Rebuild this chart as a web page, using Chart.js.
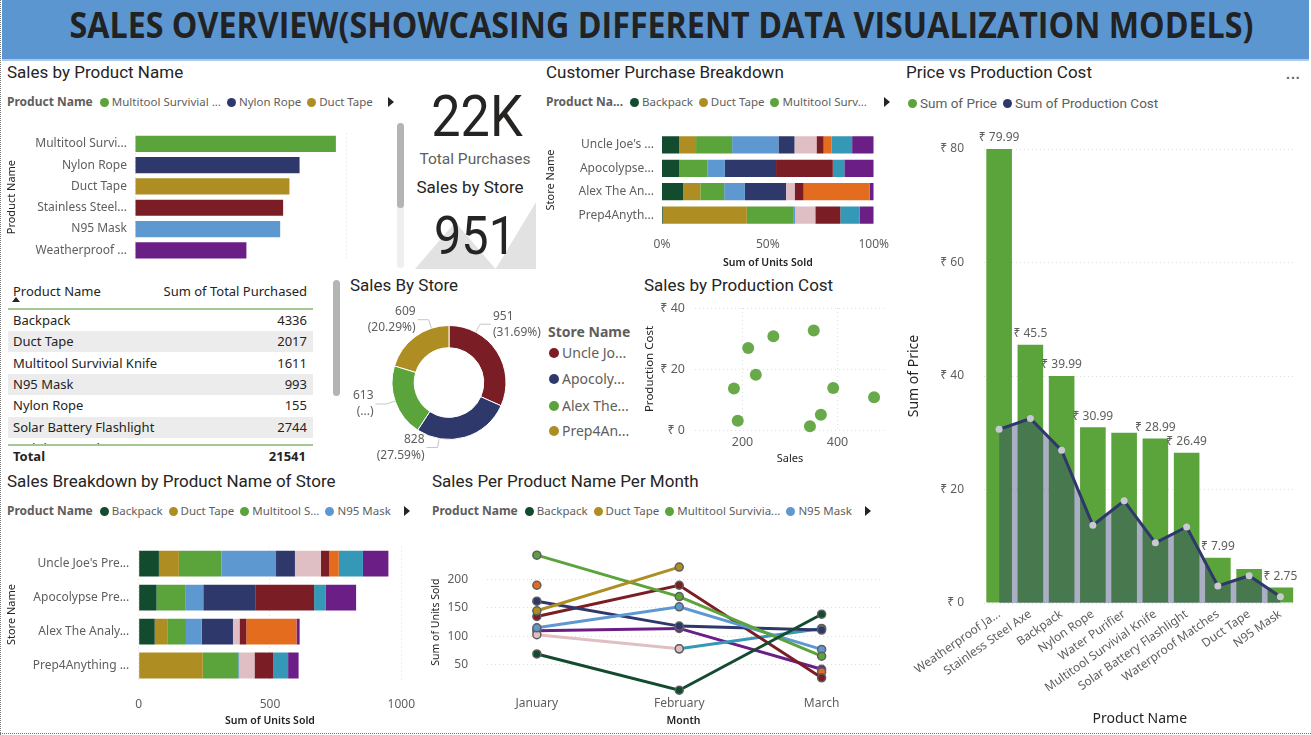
<!DOCTYPE html>
<html><head><meta charset="utf-8"><title>Sales Overview</title>
<script src="https://cdn.jsdelivr.net/npm/chart.js@4.4.1/dist/chart.umd.min.js"></script>
<style>
html,body{margin:0;padding:0;background:#fff}
body{position:relative;width:1311px;height:735px;overflow:hidden;font-family:'Noto Sans',sans-serif;color:#252423}
.a{position:absolute;white-space:nowrap}
.vt{font-family:Roboto,sans-serif;font-size:17px;line-height:22px;color:#252423}
.lg{display:flex;align-items:center;font-size:11.5px;line-height:18px;color:#605e5c}
.lg b{font-weight:700;margin-right:7px;font-size:12px}
.lg i{display:inline-block;width:9px;height:9px;border-radius:50%;margin:0 3px 0 0}
.lg span.it{display:flex;align-items:center;margin-right:6px}
.tri{width:0;height:0;border-top:5px solid transparent;border-bottom:5px solid transparent;border-left:6px solid #252423}
canvas{position:absolute}
</style></head><body>
<script>
// ---------------- DATA ----------------
const products = ['Backpack','Duct Tape','Multitool Survivial Knife','N95 Mask','Nylon Rope','Solar Battery Flashlight','Stainless Steel Axe','Water Purifier','Waterproof Matches','Weatherproof Jacket'];
const stores = ["Uncle Joe's Prepper Shop","Apocolypse Preppers","Alex The Analyst Store","Prep4Anything Store"];

// Sales by Product Name (visible bars)
const topProducts = ['Multitool Survivial Knife','Nylon Rope','Duct Tape','Stainless Steel Axe','N95 Mask','Weatherproof Jacket'];
const topProductUnits = [476, 390, 366, 351, 344, 264];

// Units sold per store (order = stores)
const unitsBackpack = [77, 68, 61, 2];
const unitsDuctTape = [76, 0, 50, 242];
const unitsMultitool = [162, 109, 69, 135];
const unitsN95 = [208, 69, 60, 4];
const unitsNylon = [72, 200, 119, 0];
const unitsSolar = [99, 0, 25, 58];
const unitsStainless = [32, 222, 26, 72];
const unitsWaterPurifier = [36, 0, 191, 0];
const unitsMatches = [92, 45, 0, 56];
const unitsJacket = [97, 115, 12, 40];

// KPI cards
const totalPurchases = 21541;
const storeSales = [951, 828, 613, 609];
const sparkValues = [0, 70, 0, 100];

// Table
const tableProducts = ['Backpack','Duct Tape','Multitool Survivial Knife','N95 Mask','Nylon Rope','Solar Battery Flashlight','Stainless Steel Axe'];
const tablePurchased = [4336, 2017, 1611, 993, 155, 2744, 1898];
const tableTotal = 21541;

// Scatter: Sales vs Production Cost (order = products)
const scatterSales = [212, 365, 477, 342, 391, 182, 350, 228, 190, 265];
const scatterCost = [26.9, 5.0, 10.7, 1.2, 13.8, 13.6, 32.6, 18.1, 3.0, 30.7];
const scatterXTicks = [200, 400];
const scatterYTicks = [0, 20, 40];

// Price vs Production Cost
const priceProducts = ['Weatherproof Jacket','Stainless Steel Axe','Backpack','Nylon Rope','Water Purifier','Multitool Survivial Knife','Solar Battery Flashlight','Waterproof Matches','Duct Tape','N95 Mask'];
const priceValues = [79.99, 45.5, 39.99, 30.99, 29.99, 28.99, 26.49, 7.99, 5.99, 2.75];
const productionCost = [30.6, 32.5, 26.9, 13.7, 18.0, 10.6, 13.4, 3.0, 4.8, 1.1];
const priceLabelShown = [1, 1, 1, 1, 0, 1, 1, 1, 0, 1];

// Units sold per month (order = months)
const months = ['January','February','March'];
const monthBackpack = [69, 5, 139];
const monthDuctTape = [145, 222, null];
const monthMultitool = [243, 170, 65];
const monthN95 = [115, 152, 77];
const monthNylon = [162, 118, 111];
const monthSolar = [103, 78, null];
const monthStainless = [135, 190, 27];
const monthWaterPurifier = [190, null, 37];
const monthMatches = [null, 78, 114];
const monthJacket = [110, 114, 42];
const lineYTicks = [50, 100, 150, 200];

// ---------------- STYLE ----------------
const COL = {
 'Backpack':'#134B2F','Duct Tape':'#AE8E22','Multitool Survivial Knife':'#5BA33B','N95 Mask':'#5E98D0','Nylon Rope':'#2E386B',
 'Solar Battery Flashlight':'#DFBFC3','Stainless Steel Axe':'#7B1D25','Water Purifier':'#E46C1F','Waterproof Matches':'#3598B6','Weatherproof Jacket':'#6B1F86'
};
const STORECOL = ['#7B1D25','#2E386B','#5BA33B','#AE8E22'];
const byStore = [unitsBackpack,unitsDuctTape,unitsMultitool,unitsN95,unitsNylon,unitsSolar,unitsStainless,unitsWaterPurifier,unitsMatches,unitsJacket];
const byMonth = [monthBackpack,monthDuctTape,monthMultitool,monthN95,monthNylon,monthSolar,monthStainless,monthWaterPurifier,monthMatches,monthJacket];

Chart.defaults.font.family = "'Noto Sans', sans-serif";
Chart.defaults.font.size = 12;
Chart.defaults.color = '#605e5c';
Chart.defaults.animation = false;
Chart.defaults.responsive = false;
Chart.defaults.plugins.legend.display = false;
Chart.defaults.plugins.tooltip.enabled = false;

const mctx = document.createElement('canvas').getContext('2d');
function fit(text, font, maxW){
  mctx.font = font;
  if (mctx.measureText(text).width <= maxW) return text;
  let s = text;
  while (s.length > 1 && mctx.measureText(s + '...').width > maxW) s = s.slice(0, -1);
  return s + '...';
}
function el(tag, cls, css, txt){ const d=document.createElement(tag); if(cls) d.className=cls; if(css) d.style.cssText=css; if(txt!=null) d.textContent=txt; document.body.appendChild(d); return d; }
function mk(x,y,w,h){ const c=document.createElement('canvas'); c.width=w; c.height=h; c.style.left=x+'px'; c.style.top=y+'px'; c.style.width=w+'px'; c.style.height=h+'px'; document.body.appendChild(c); return c.getContext('2d'); }
function legend(x, yc, title, titleMax, items, arrowX, fontCss){
  const d = el('div','a lg','left:'+x+'px;top:'+(yc-9)+'px;'+(fontCss||''));
  if (title){ const b=document.createElement('b'); b.textContent=fit(title,'bold 12px "Noto Sans"',titleMax); d.appendChild(b); }
  items.forEach(([txt,col,maxW,f])=>{
    const s=document.createElement('span'); s.className='it';
    const i=document.createElement('i'); i.style.background=col; s.appendChild(i);
    s.appendChild(document.createTextNode(fit(txt, f||'11.5px "Noto Sans"', maxW||999))); d.appendChild(s);
  });
  if (arrowX!=null) el('div','a tri','left:'+arrowX+'px;top:'+(yc-5)+'px');
}
const grid0 = {color:'#dedede', drawTicks:false, lineWidth:1};
const noGrid = {display:false, drawTicks:false};
const dotB = {display:false, dash:[1,3]};

// ---------------- FRAME / HEADER ----------------
el('div','a','left:0;top:0;height:735px;border-left:1px dotted #777');
el('div','a','left:0;top:733px;width:1311px;border-top:1px dotted #777');
el('div','a','left:2px;top:0;width:1307px;height:59px;background:#5B96D1');
el('div','a','left:2px;top:59px;width:1307px;height:2px;background:#AACBEA');
const tWrap = el('div','a','left:0;top:0;width:1311px;height:59px;line-height:57px;text-align:center');
const tSpan = document.createElement('span');
tSpan.style.cssText = "display:inline-block;font:700 36px 'Open Sans',sans-serif;color:#222;white-space:nowrap;transform-origin:50% 50%";
tSpan.textContent = 'SALES OVERVIEW(SHOWCASING DIFFERENT DATA VISUALIZATION MODELS)';
tWrap.appendChild(tSpan);
const tw = tSpan.getBoundingClientRect().width;
tSpan.style.transform = 'scaleX(' + (1184/tw) + ')';

// ---------------- TITLES ----------------
[['Sales by Product Name',7,72],['Customer Purchase Breakdown',546,72],['Price vs Production Cost',906,72],['Sales By Store',350,285],
 ['Sales by Production Cost',644,285],['Sales Breakdown by Product Name of Store',7,481],['Sales Per Product Name Per Month',432,481]]
 .forEach(([t,x,y])=>el('div','a vt','left:'+x+'px;top:'+(y-11)+'px',t));
el('div','a','left:1286px;top:66px;font:bold 14px sans-serif;color:#666;letter-spacing:1px','...');

// ---------------- LEGENDS ----------------
legend(7,102,'Product Name',200,[[topProducts[0],COL[topProducts[0]],113],[topProducts[1],COL[topProducts[1]]],[topProducts[2],COL[topProducts[2]]]],388);
legend(546,102,'Product Name',81,[[products[0],COL[products[0]]],[products[1],COL[products[1]]],[products[2],COL[products[2]],87]],884);
legend(7,511,'Product Name',200,[[products[0],COL[products[0]]],[products[1],COL[products[1]]],[products[2],COL[products[2]],71],[products[3],COL[products[3]]]],404);
legend(432,511,'Product Name',200,[[products[0],COL[products[0]]],[products[1],COL[products[1]]],[products[2],COL[products[2]],106],[products[3],COL[products[3]]]],865);
legend(908,103,null,0,[['Sum of Price','#5BA33B',999,'13.5px Roboto'],['Sum of Production Cost','#2E386B',999,'13.5px Roboto']],null,"font-family:Roboto,sans-serif;font-size:13.5px");

// donut legend
el('div','a','left:548px;top:322px;font:bold 14px "Noto Sans";color:#605e5c;line-height:20px','Store Name');
[353,379,405.5,431].forEach((yc,i)=>{
  el('div','a','left:549px;top:'+(yc-5)+'px;width:10px;height:10px;border-radius:50%;background:'+STORECOL[i]);
  el('div','a','left:562px;top:'+(yc-10)+'px;font:14px "Noto Sans";color:#605e5c;line-height:20px',fit(stores[i],'14px "Noto Sans"',70));
});

// ---------------- SCROLLBARS ----------------
el('div','a','left:397px;top:123px;width:7px;height:145px;border-radius:4px;background:#efefef');
el('div','a','left:397px;top:123px;width:7px;height:85px;border-radius:4px;background:#b4b4b4');
el('div','a','left:333px;top:280px;width:7px;height:116px;border-radius:4px;background:#b4b4b4');

// ---------------- CARDS ----------------
new Chart(mk(415,202,121,67),{type:'line',data:{labels:sparkValues.map((_,i)=>i),datasets:[{data:sparkValues,fill:'origin',backgroundColor:'#e2e2e2',borderWidth:0,pointRadius:0,tension:0}]},
  options:{layout:{padding:0},scales:{x:{display:false},y:{display:false,min:0,max:100}}}});
el('div','a','left:377px;top:87px;width:200px;text-align:center;font:400 58px Roboto,sans-serif;line-height:58px;color:#252423;transform:scaleX(0.9)',Math.round(totalPurchases/1000)+'K');
el('div','a','left:375px;top:148px;width:200px;text-align:center;font:400 15.5px Roboto,sans-serif;line-height:22px;color:#605e5c','Total Purchases');
el('div','a','left:370px;top:176px;width:200px;text-align:center;font:400 17px Roboto,sans-serif;line-height:22px;color:#252423','Sales by Store');
el('div','a','left:375px;top:209px;width:200px;text-align:center;font:400 54px Roboto,sans-serif;line-height:54px;color:#252423;transform:scaleX(0.9)',String(storeSales[0]));

// ---------------- TABLE ----------------
el('div','a','left:13px;top:282px;font-size:13px;line-height:18px','Product Name');
el('div','a','right:'+(1311-307)+'px;top:282px;font-size:13px;line-height:18px','Sum of Total Purchased');
el('div','a','left:12px;top:297px;width:0;height:0;border-left:4px solid transparent;border-right:4px solid transparent;border-bottom:5px solid #252423');
el('div','a','left:8px;top:308px;width:305px;height:2px;background:#a3c893');
const clip = el('div','a','left:8px;top:310px;width:305px;height:134px;overflow:hidden');
tableProducts.forEach((p,i)=>{
  const r=document.createElement('div');
  r.style.cssText='position:absolute;left:0;top:'+(i*21.3)+'px;width:305px;height:21px;font-size:13px;line-height:21px;background:'+(i%2?'#ececec':'#fff');
  r.innerHTML='<span style="position:absolute;left:5px">'+p+'</span><span style="position:absolute;right:6px">'+tablePurchased[i]+'</span>';
  clip.appendChild(r);
});
el('div','a','left:8px;top:444px;width:305px;height:2px;background:#a3c893');
el('div','a','left:13px;top:446px;font-size:13px;font-weight:700;line-height:20px','Total');
el('div','a','right:'+(1311-306)+'px;top:446px;font-size:13px;font-weight:700;line-height:20px',String(tableTotal));

// ---------------- CHART 1: Sales by Product Name ----------------
new Chart(mk(0,118,400,160),{type:'bar',
 data:{labels:topProducts,datasets:[{data:topProductUnits,backgroundColor:topProducts.map(p=>COL[p]),barPercentage:0.76,categoryPercentage:1}]},
 options:{indexAxis:'y',layout:{padding:{top:11,right:54,left:0,bottom:0}},
  scales:{
   x:{min:0,max:500,afterFit:s=>{s.height=17},ticks:{display:false,stepSize:500},grid:grid0,border:dotB},
   y:{afterFit:s=>{s.width=135},grid:noGrid,border:{display:false},
      ticks:{padding:8,callback(v){return fit(this.getLabelForValue(v),'12px "Noto Sans"',92.5);}},
      title:{display:true,text:'Product Name',color:'#252423',font:{size:11},padding:{top:5,bottom:0}}}
  }}});

// ---------------- CHART 2: Customer Purchase Breakdown (100%) ----------------
const storeTotals = stores.map((_,s)=>byStore.reduce((a,arr)=>a+arr[s],0));
new Chart(mk(540,118,360,155),{type:'bar',
 data:{labels:stores,datasets:products.map((p,k)=>({label:p,data:byStore[k].map((v,s)=>v/storeTotals[s]*100),backgroundColor:COL[p],barPercentage:0.74,categoryPercentage:1}))},
 options:{indexAxis:'y',layout:{padding:{top:11.5,right:20,left:0,bottom:0}},
  scales:{
   x:{stacked:true,min:0,max:100,afterFit:s=>{s.height=46.2},ticks:{stepSize:50,padding:11,callback:v=>v+'%'},grid:noGrid,border:{display:false},
      title:{display:true,text:'Sum of Units Sold',color:'#252423',font:{size:10.5,weight:'600'},padding:{top:0,bottom:3.7}}},
   y:{stacked:true,afterFit:s=>{s.width=122},grid:noGrid,border:{display:false},
      ticks:{padding:8,callback(v){return fit(this.getLabelForValue(v),'12px "Noto Sans"',77);}},
      title:{display:true,text:'Store Name',color:'#252423',font:{size:11},padding:{top:4.4,bottom:0}}}
  }}});

// ---------------- CHART 3: Price vs Production Cost ----------------
const priceLabels = {id:'priceLabels',afterDatasetsDraw(chart){
  const ctx=chart.ctx, meta=chart.getDatasetMeta(1);
  ctx.save(); ctx.font='12px "Noto Sans"'; ctx.fillStyle='#605e5c'; ctx.textAlign='center'; ctx.textBaseline='bottom';
  meta.data.forEach((b,i)=>{ if(priceLabelShown[i]) ctx.fillText('₹ '+priceValues[i], b.x, b.y-5); });
  ctx.restore();
}};
new Chart(mk(900,118,411,617),{type:'bar',
 data:{labels:priceProducts,datasets:[
   {type:'line',label:'Sum of Production Cost',data:productionCost,order:1,borderColor:'#2E386B',borderWidth:3,fill:'origin',backgroundColor:'rgba(46,56,107,0.40)',
    pointRadius:3.5,pointBackgroundColor:'#c9c9d3',pointBorderWidth:0,tension:0},
   {label:'Sum of Price',data:priceValues,order:2,backgroundColor:'#5BA33B',barPercentage:0.82,categoryPercentage:1}
 ]},
 options:{layout:{padding:{top:31,right:15,left:0,bottom:0}},
  scales:{
   x:{afterFit:s=>{s.height=132},grid:noGrid,border:{display:false},
      ticks:{autoSkip:false,maxRotation:35,minRotation:35,padding:4,callback(v,i){const l=this.getLabelForValue(v);return i===0?fit(l,'12px "Noto Sans"',107):l;}},
      title:{display:true,text:'Product Name',color:'#252423',font:{size:14},padding:{top:0,bottom:7.6}}},
   y:{min:0,max:80,afterFit:s=>{s.width=83.5},grid:grid0,border:dotB,ticks:{stepSize:20,padding:19.5,callback:v=>'₹ '+v},
      title:{display:true,text:'Sum of Price',color:'#252423',font:{size:14},padding:{top:5.6,bottom:0}}}
  }},
 plugins:[priceLabels]});

// ---------------- CHART 4: Sales By Store (donut) ----------------
const donutLeaderAngles = [28, 190, 251, 342];
const donutLabels = {id:'donutLabels',afterDatasetsDraw(chart){
  const ctx=chart.ctx, meta=chart.getDatasetMeta(0), data=chart.data.datasets[0].data;
  const total=data.reduce((a,b)=>a+b,0);
  ctx.save();
  meta.data.forEach((arc,i)=>{
    const ang=donutLeaderAngles[i]*Math.PI/180, r=arc.outerRadius, cx=arc.x, cy=arc.y;
    const sx=cx+r*Math.sin(ang), sy=cy-r*Math.cos(ang);
    const ex=cx+(r+9)*Math.sin(ang), ey=cy-(r+9)*Math.cos(ang);
    const dir=Math.sin(ang)>=0?1:-1, hx=ex+dir*11;
    ctx.strokeStyle='#c8c6c4'; ctx.lineWidth=1; ctx.beginPath(); ctx.moveTo(sx,sy); ctx.lineTo(ex,ey); ctx.lineTo(hx,ey); ctx.stroke();
    const tx=hx+dir*2;
    ctx.font='12px "Noto Sans"'; ctx.fillStyle='#605e5c'; ctx.textAlign=dir>0?'left':'right'; ctx.textBaseline='middle';
    const pct='('+(data[i]/total*100).toFixed(2)+'%)';
    const avail=dir>0?chart.width-tx:tx;
    ctx.fillText(String(data[i]),tx,ey-8);
    ctx.fillText(ctx.measureText(pct).width<=avail?pct:'(...)',tx,ey+8);
  });
  ctx.restore();
}};
new Chart(mk(345,300,205,170),{type:'doughnut',
 data:{labels:stores,datasets:[{data:storeSales,backgroundColor:STORECOL,borderColor:'#fff',borderWidth:1}]},
 options:{cutout:'61%',layout:{padding:{left:46.5,right:43.5,top:25,bottom:30}}},
 plugins:[donutLabels]});

// ---------------- CHART 5: Sales by Production Cost (scatter) ----------------
new Chart(mk(635,290,265,180),{type:'scatter',
 data:{datasets:[{data:scatterSales.map((x,i)=>({x,y:scatterCost[i]})),backgroundColor:'rgba(91,163,59,0.92)',pointRadius:6,pointBorderWidth:0}]},
 options:{layout:{padding:{top:18,right:15,left:0,bottom:0}},clip:false,
  scales:{
   x:{min:100,max:500,afterFit:s=>{s.height=40},afterBuildTicks:s=>{s.ticks=scatterXTicks.map(v=>({value:v}));},grid:grid0,border:dotB,ticks:{padding:5,font:{size:12.5}},
      title:{display:true,text:'Sales',color:'#252423',font:{size:11},padding:{top:0,bottom:4.4}}},
   y:{min:0,max:40,afterFit:s=>{s.width=60},afterBuildTicks:s=>{s.ticks=scatterYTicks.map(v=>({value:v}));},grid:grid0,border:dotB,ticks:{padding:10,font:{size:12.5},callback:v=>'₹ '+v},
      title:{display:true,text:'Production Cost',color:'#252423',font:{size:11.5},padding:{top:7.6,bottom:0}}}
  }}});

// ---------------- CHART 6: Sales Breakdown by Product Name of Store ----------------
new Chart(mk(0,530,430,200),{type:'bar',
 data:{labels:stores,datasets:products.map((p,k)=>({label:p,data:byStore[k],backgroundColor:COL[p],barPercentage:0.76,categoryPercentage:1}))},
 options:{indexAxis:'y',layout:{padding:{top:12.5,right:22.7,left:0,bottom:0}},
  scales:{
   x:{stacked:true,min:0,max:1000,afterFit:s=>{s.height=47.5},ticks:{stepSize:500,padding:15,callback:v=>String(v)},grid:grid0,border:dotB,
      title:{display:true,text:'Sum of Units Sold',color:'#252423',font:{size:10.5,weight:'600'},padding:{top:0,bottom:3}}},
   y:{stacked:true,afterFit:s=>{s.width=138.7},grid:noGrid,border:{display:false},
      ticks:{padding:9.4,callback(v){return fit(this.getLabelForValue(v),'12px "Noto Sans"',97);}},
      title:{display:true,text:'Store Name',color:'#252423',font:{size:11},padding:{top:5.4,bottom:0}}}
  }}});

// ---------------- CHART 7: Sales Per Product Name Per Month ----------------
new Chart(mk(425,525,475,205),{type:'line',
 data:{datasets:products.map((p,k)=>({label:p,data:byMonth[k].map((v,i)=>({x:i,y:v})),borderColor:COL[p],backgroundColor:COL[p],borderWidth:3,
   pointRadius:4,pointBackgroundColor:COL[p],pointBorderColor:'#5f5f5f',pointBorderWidth:1.5,spanGaps:false,tension:0}))},
 options:{layout:{padding:{top:6,right:20,left:0,bottom:0}},clip:false,
  scales:{
   x:{type:'linear',min:-0.35,max:2.41,afterFit:s=>{s.height=36.9},afterBuildTicks:s=>{s.ticks=months.map((_,i)=>({value:i}));},grid:noGrid,border:{display:false},
      ticks:{padding:3,callback:v=>months[v]},
      title:{display:true,text:'Month',color:'#252423',font:{size:10.5,weight:'600'},padding:{top:0,bottom:2.7}}},
   y:{min:0,max:250,afterFit:s=>{s.width=62},afterBuildTicks:s=>{s.ticks=lineYTicks.map(v=>({value:v}));},grid:grid0,border:dotB,ticks:{padding:19},
      title:{display:true,text:'Sum of Units Sold',color:'#252423',font:{size:10.5},padding:{top:5.1,bottom:0}}}
  }}});
</script>
</body></html>
